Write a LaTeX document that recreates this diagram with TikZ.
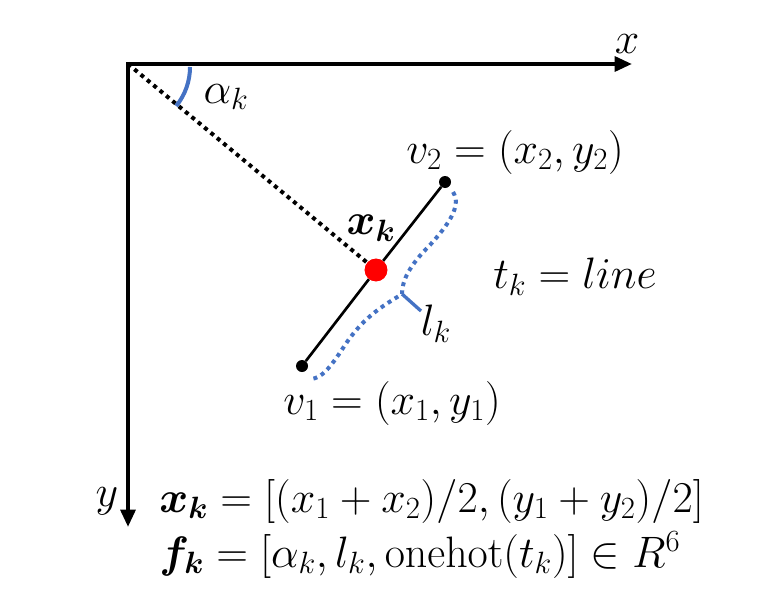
\RequirePackage{fix-cm}
\documentclass[tikz,border=0pt]{standalone}
\usepackage{bm}
\usetikzlibrary{arrows.meta}
\definecolor{myblue}{RGB}{68,114,196}
\definecolor{myred}{RGB}{255,0,0}
\begin{document}
\begin{tikzpicture}[x=0.75pt,y=-0.75pt,
  axis/.style={line width=3pt,-{Triangle[length=13pt,width=11pt]}},
  txt/.style={inner sep=0pt,font=\fontsize{33}{38}\selectfont},
  dotline/.style={line width=3pt,dash pattern=on 3pt off 3.2pt},
  bluedot/.style={myblue,line width=3pt,dash pattern=on 3pt off 3.2pt},
  vtx/.style={circle,fill=black,inner sep=0pt,minimum size=9pt}]
\useasboundingbox (0,0) rectangle (762,610);
\coordinate (O) at (128,64);
\coordinate (xend) at (632,64);
\coordinate (yend) at (128,527);
\draw[axis] ([xshift=-1.5pt]O) -- (xend);
\draw[axis] ([yshift=1.5pt]O) -- (yend);
\node[txt] (xl) at (627,44) {$x$};
\node[txt] (yl) at (107,501) {$y$};
\node[circle,fill=myred,inner sep=0pt,minimum size=17pt] (m) at (376,270) {};
\draw[dotline] (O) -- (m);
\draw[myblue,line width=3pt] (190,67) arc[start angle=0,end angle=39,radius=62];
\node[txt] (al) at (226,97) {$\alpha_k$};
\node[vtx] (v2) at (445,182) {};
\node[vtx] (v1) at (302,366) {};
\draw[line width=2pt] (v1) -- (m) -- (v2);
\node[circle,fill=myred,inner sep=0pt,minimum size=17pt] at (376,270) {};
\coordinate (cusp) at (402,294);
\coordinate (b1) at (453,192);
\coordinate (b2) at (311,379);
\draw[bluedot] (b1) .. controls (462,206) and (448,225) .. (430,245) .. controls (410,265) and (402,280) .. (cusp) .. controls (385,305) and (365,315) .. (345,345) .. controls (330,368) and (322,378) .. (b2);
\coordinate (tip) at (421,311);
\draw[myblue,line width=2.5pt] (cusp) -- (tip);
\node[txt] (lk) at (436,324) {$l_k$};
\node[txt] (xk) at (371,228) {$\bm{x}_{\bm{k}}$};
\node[txt] (v2l) at (515,152) {$v_2=(x_2,y_2)$};
\node[txt] (v1l) at (392,403) {$v_1=(x_1,y_1)$};
\node[txt] (tk) at (575,277) {$t_k=line$};
\node[txt,anchor=base west] (eq1) at (159,512) {$\bm{x}_{\bm{k}}=[(x_1+x_2)/2,(y_1+y_2)/2]$};
\node[txt,anchor=base west] (eq2) at (159,567) {$\bm{f}_{\bm{k}}=[\alpha_k,l_k,\mathrm{onehot}(t_k)]\in R^6$};
\end{tikzpicture}
\end{document}
